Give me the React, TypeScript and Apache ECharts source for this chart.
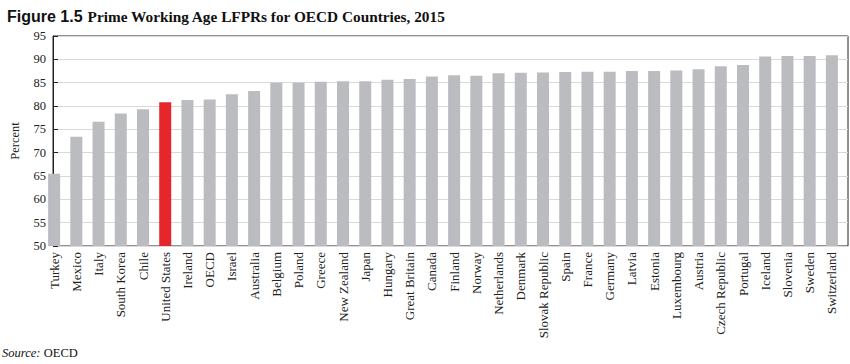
import React, { useEffect, useRef } from "react";
import * as echarts from "echarts";

const countries = [
  "Turkey", "Mexico", "Italy", "South Korea", "Chile", "United States", "Ireland", "OECD",
  "Israel", "Australia", "Belgium", "Poland", "Greece", "New Zealand", "Japan", "Hungary",
  "Great Britain", "Canada", "Finland", "Norway", "Netherlands", "Denmark", "Slovak Republic",
  "Spain", "France", "Germany", "Latvia", "Estonia", "Luxembourg", "Austria", "Czech Republic",
  "Portugal", "Iceland", "Slovenia", "Sweden", "Switzerland",
];

const lfpr = [
  65.5, 73.4, 76.6, 78.4, 79.3, 80.8, 81.3, 81.4,
  82.5, 83.2, 85.0, 85.0, 85.2, 85.3, 85.3, 85.6,
  85.8, 86.3, 86.6, 86.5, 87.0, 87.1, 87.2,
  87.3, 87.35, 87.35, 87.5, 87.5, 87.6, 87.9, 88.5,
  88.8, 90.6, 90.7, 90.7, 90.9,
];

const highlight = "United States";

const yMin = 50;
const yMax = 95;
const yStep = 5;

const SERIF = "'Liberation Serif', 'Times New Roman', serif";
const SANS = "'Liberation Sans', Arial, sans-serif";

export default function App() {
  const ref = useRef<HTMLDivElement>(null);

  useEffect(() => {
    document.body.style.margin = "0";
    if (!ref.current) return;
    const chart = echarts.init(ref.current, undefined, { renderer: "svg" });
    chart.setOption({
      animation: false,
      backgroundColor: "#ffffff",
      title: {
        left: 2,
        top: 2,
        text: "{a|Figure 1.5} {b|Prime Working Age LFPRs for OECD Countries, 2015}",
        textStyle: {
          rich: {
            a: { fontFamily: SANS, fontWeight: "bold", fontSize: 16, color: "#111" },
            b: { fontFamily: SERIF, fontWeight: "bold", fontSize: 15.3, color: "#111" },
          },
        },
      },
      graphic: [
        {
          type: "text",
          left: 2,
          top: 346,
          style: {
            text: "{i|Source:} {r|OECD}",
            rich: {
              i: { fontFamily: SERIF, fontStyle: "italic", fontSize: 12.5, fill: "#111" },
              r: { fontFamily: SERIF, fontSize: 12.5, fill: "#111" },
            },
          },
        },
      ],
      grid: [
        { left: 43, right: 7, top: 36, bottom: 118 },
        {
          left: 37, right: 2, top: 36, bottom: 118,
          show: true, borderColor: "#222", borderWidth: 1, backgroundColor: "transparent",
        },
      ],
      xAxis: [
        {
          type: "category",
          gridIndex: 0,
          data: countries,
          boundaryGap: true,
          axisLine: { show: false },
          axisTick: { show: false },
          axisLabel: {
            rotate: 90,
            margin: 6,
            interval: 0,
            fontFamily: SERIF,
            fontSize: 13,
            color: "#222",
          },
        },
        { type: "value", gridIndex: 1, min: 0, max: 1, show: false },
      ],
      yAxis: [
        { type: "value", gridIndex: 0, min: yMin, max: yMax, interval: yStep, show: false },
        {
          type: "value",
          gridIndex: 1,
          min: yMin,
          max: yMax,
          interval: yStep,
          name: "Percent",
          nameLocation: "middle",
          nameGap: 32,
          nameTextStyle: { fontFamily: SERIF, fontSize: 12.5, color: "#222" },
          axisLine: { show: true, lineStyle: { color: "#222" } },
          axisTick: { show: true, inside: true, length: 5, lineStyle: { color: "#222" } },
          axisLabel: { fontFamily: SERIF, fontSize: 12.5, color: "#222", margin: 7 },
          splitLine: { show: true, lineStyle: { color: "#d9d9d9", width: 1 } },
        },
      ],
      series: [
        {
          type: "bar",
          xAxisIndex: 0,
          yAxisIndex: 0,
          barWidth: 12,
          data: lfpr.map((v, i) => ({
            value: v,
            itemStyle: { color: countries[i] === highlight ? "#e5262a" : "#bbbcbf" },
          })),
        },
      ],
    });
    return () => chart.dispose();
  }, []);

  return <div ref={ref} style={{ width: 850, height: 364 }} />;
}
